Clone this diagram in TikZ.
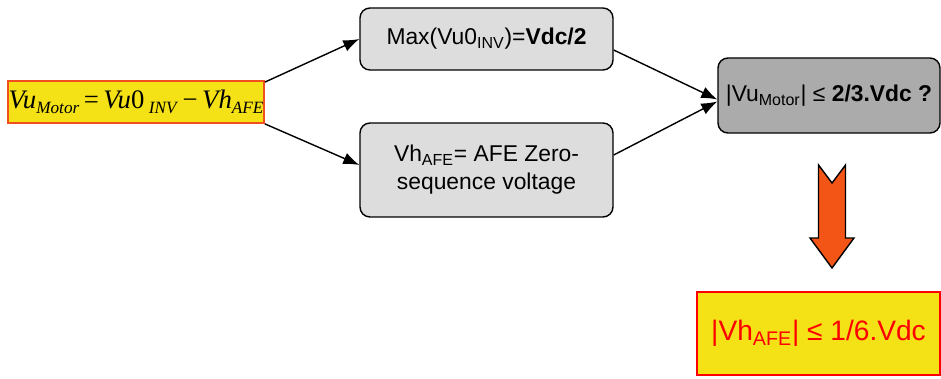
\documentclass[tikz,border=0pt]{standalone}
\usepackage{fontspec}
\setmainfont{Liberation Sans}
\newfontfamily\eqfont{Liberation Serif}
\usepackage{xcolor}
\usetikzlibrary{positioning, calc, arrows.meta}
\definecolor{BoxGray}{RGB}{221,221,221}
\definecolor{DarkGray}{RGB}{171,171,171}
\definecolor{NoteYellow}{RGB}{244,225,22}
\definecolor{EdgeOrange}{RGB}{240,80,30}
\definecolor{ArrowOrange}{RGB}{242,85,22}
\newcommand{\eqsub}[1]{\raisebox{-0.4ex}{\fontsize{9.8}{12}\selectfont\textit{#1}}}
\tikzset{
    stepbox/.style={
        draw, rounded corners=0.2cm, fill=BoxGray, line width=0.8pt,
        align=center, font=\fontsize{13}{16}\selectfont, inner sep=2pt
    },
    eqbox/.style={
        draw=EdgeOrange, fill=NoteYellow, line width=1pt,
        minimum width=5.12cm, minimum height=0.84cm, inner sep=0pt,
        font=\eqfont\fontsize{15.2}{18}\selectfont
    },
    resultbox/.style={
        draw=red, fill=NoteYellow, line width=0.6pt, text=red,
        minimum width=4.86cm, minimum height=1.66cm,
        font=\fontsize{16}{19}\selectfont
    },
    flow/.style={
        -{Latex[length=3.2mm, width=2.4mm]}, line width=0.8pt
    }
}

\begin{document}
\begin{tikzpicture}
    \useasboundingbox (0,0) rectangle (18.82,7.56);
    % left equation
    \node[eqbox] (eq) at (2.72,5.52)
        {\textit{Vu}\eqsub{Motor}\,=\,\textit{Vu}0\,\eqsub{INV}\,−\,\textit{Vh}\eqsub{AFE}};
    % middle boxes
    \node[stepbox, minimum width=5.06cm, minimum height=1.24cm] (max) at (9.73,6.78)
        {Max(Vu0\textsubscript{INV})=\textbf{Vdc/2}};
    \node[stepbox, minimum width=5.06cm, minimum height=1.88cm] (vh) at (9.73,4.16)
        {Vh\textsubscript{AFE}= AFE Zero-\\sequence voltage};
    % question
    \node[stepbox, fill=DarkGray, minimum width=4.44cm, minimum height=1.5cm] (res) at (16.58,5.65)
        {|Vu\textsubscript{Motor}| ≤ \textbf{2/3.Vdc ?}};
    % answer
    \node[resultbox] (lim) at (16.37,0.89) {|Vh\textsubscript{AFE}| ≤ 1/6.Vdc};

    \draw[flow] ([yshift=-0.04cm]eq.north east) -- (max.west);
    \draw[flow] (eq.south east) -- ([yshift=0.1cm]vh.west);
    \draw[flow] ([yshift=-0.22cm]max.east) -- ([yshift=-0.08cm]res.west);
    \draw[flow] ([yshift=0.3cm]vh.east) -- ([yshift=-0.12cm]res.west);

    % block arrow
    \coordinate (down) at (16.64,4.26);
    \draw[fill=ArrowOrange, line width=0.8pt] (down) ++(-0.27,0) -- ++(0.27,-0.36) -- ++(0.27,0.36)
        -- ++(0,-1.46) -- ++(0.17,0) -- ++(-0.44,-0.6) -- ++(-0.44,0.6) -- ++(0.17,0) -- cycle;
\end{tikzpicture}
\end{document}
